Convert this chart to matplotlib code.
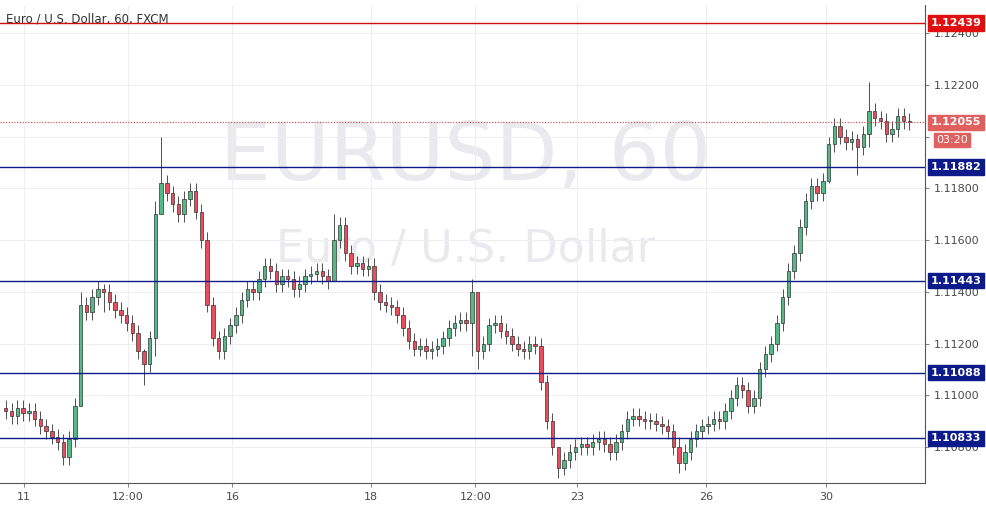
import matplotlib
matplotlib.use("Agg")
import matplotlib.pyplot as plt
from matplotlib.patches import Rectangle

# closes in pips above 1.10000 (2h candles)
closes = [94,92,95,93,94,91,88,86,84,82,76,83,96,135,132,138,141,140,136,133,
          131,128,124,117,112,122,170,182,178,174,170,176,179,171,160,135,122,117,123,127,
          131,137,141,140,145,150,148,143,146,145,141,143,146,147,148,146,144,160,166,155,
          150,151,149,150,140,136,135,134,131,126,121,118,119,117,118,119,122,126,128,129,
          128,140,117,120,127,128,125,123,120,118,117,120,119,105,90,80,72,75,78,80,
          81,80,82,83,81,78,82,86,91,92,91,90,90,89,88,86,80,74,78,83,
          86,88,89,91,90,94,99,104,102,96,99,110,116,120,128,138,148,155,165,175,
          181,178,183,197,204,200,198,199,196,201,210,207,206,201,203,208,206,205.5]
first_open = 95
# notable wick extremes (index: (high, low)) in pips
extremes = {13: (140, 96), 17: (143, 132), 24: (118, 104), 26: (175, 115), 27: (200, 170),
            57: (170, 144), 81: (145, 115), 82: (140, 110), 96: (80, 68), 117: (84, 70),
            143: (200, 182), 148: (201, 185), 150: (221, 196)}
default_wick = 3

tick_pos = [3.1, 21.2, 39.4, 63.4, 81.6, 99.3, 121.7, 142.5]
tick_labels = ["11", "12:00", "16", "18", "12:00", "23", "26", "30"]
yticks = [1.108, 1.110, 1.112, 1.114, 1.116, 1.118, 1.120, 1.122, 1.124]
levels = [1.11882, 1.11443, 1.11088, 1.10833]
red_level = 1.12439
last_price = 1.12055

fig = plt.figure(figsize=(9.87, 5.16), dpi=100)
ax = fig.add_axes([0.0, 0.064, 0.937, 0.926])
ax.set_xlim(-1, 159.7)
ax.set_ylim(1.10661, 1.12508)

ax.text(0.503, 0.68, "EURUSD, 60", transform=ax.transAxes, fontsize=58, color="#e9e9ee",
        ha="center", va="center", zorder=0)
ax.text(0.503, 0.49, "Euro / U.S. Dollar", transform=ax.transAxes, fontsize=32, color="#e9e9ee",
        ha="center", va="center", zorder=0)

prev = first_open
w = 0.6
for i, c in enumerate(closes):
    o = prev
    cp = c
    if cp == o:
        cp = o + 0.3
    hi, lo = extremes.get(i, (max(o, cp) + default_wick, min(o, cp) - default_wick))
    hi = max(hi, o, cp); lo = min(lo, o, cp)
    up = cp >= o
    col = "#53b987" if up else "#eb4d5c"
    P = lambda p: 1.1 + p / 10000
    ax.vlines(i, P(lo), P(hi), color="#333333", lw=0.6, zorder=2)
    ax.add_patch(Rectangle((i - w / 2, P(min(o, cp))), w, P(max(o, cp)) - P(min(o, cp)),
                           facecolor=col, edgecolor="#333333", lw=0.5, zorder=3))
    prev = c

for lv in levels:
    ax.axhline(lv, color="#0c1a8a", lw=1, zorder=4)
ax.axhline(red_level, color="#d01010", lw=1, zorder=4)
ax.axhline(last_price, color="#d04040", lw=0.8, ls=(0, (1, 1.5)), zorder=4)

ax.yaxis.tick_right()
ax.set_yticks(yticks)
ax.set_yticklabels([("" if abs(v - 1.12) < 1e-9 else f"{v:.5f}") for v in yticks],
                   fontsize=8, color="#4a4a4a")
ax.set_xticks(tick_pos)
ax.set_xticklabels(tick_labels, fontsize=8, color="#4a4a4a")
ax.tick_params(length=3, color="#888888")
ax.grid(True, color="#eeeeee", lw=0.8, zorder=0)
for s in ["top", "left"]:
    ax.spines[s].set_visible(False)
ax.spines["right"].set_color("#555555")
ax.spines["bottom"].set_color("#555555")

def box(y, txt, fc):
    ax.text(1.006, y, txt, transform=ax.get_yaxis_transform(), fontsize=8, color="white",
            fontweight="bold", va="center", ha="left",
            bbox=dict(boxstyle="square,pad=0.25", fc=fc, ec=fc), zorder=6, clip_on=False)

for lv in levels:
    box(lv, f"{lv:.5f}", "#0c1a8a")
box(red_level, f"{red_level:.5f}", "#e01010")
box(last_price, f"{last_price:.5f}", "#e06060")
ax.text(1.012, last_price - 0.00068, "03:20", transform=ax.get_yaxis_transform(), fontsize=8,
        color="white", va="center", ha="left",
        bbox=dict(boxstyle="square,pad=0.2", fc="#e06060", ec="#e06060"), zorder=6, clip_on=False)

ax.text(0.006, 0.985, "Euro / U.S. Dollar, 60, FXCM", transform=ax.transAxes, fontsize=8.5,
        color="#333333", va="top", ha="left")

fig.savefig("out.png", dpi=100)
